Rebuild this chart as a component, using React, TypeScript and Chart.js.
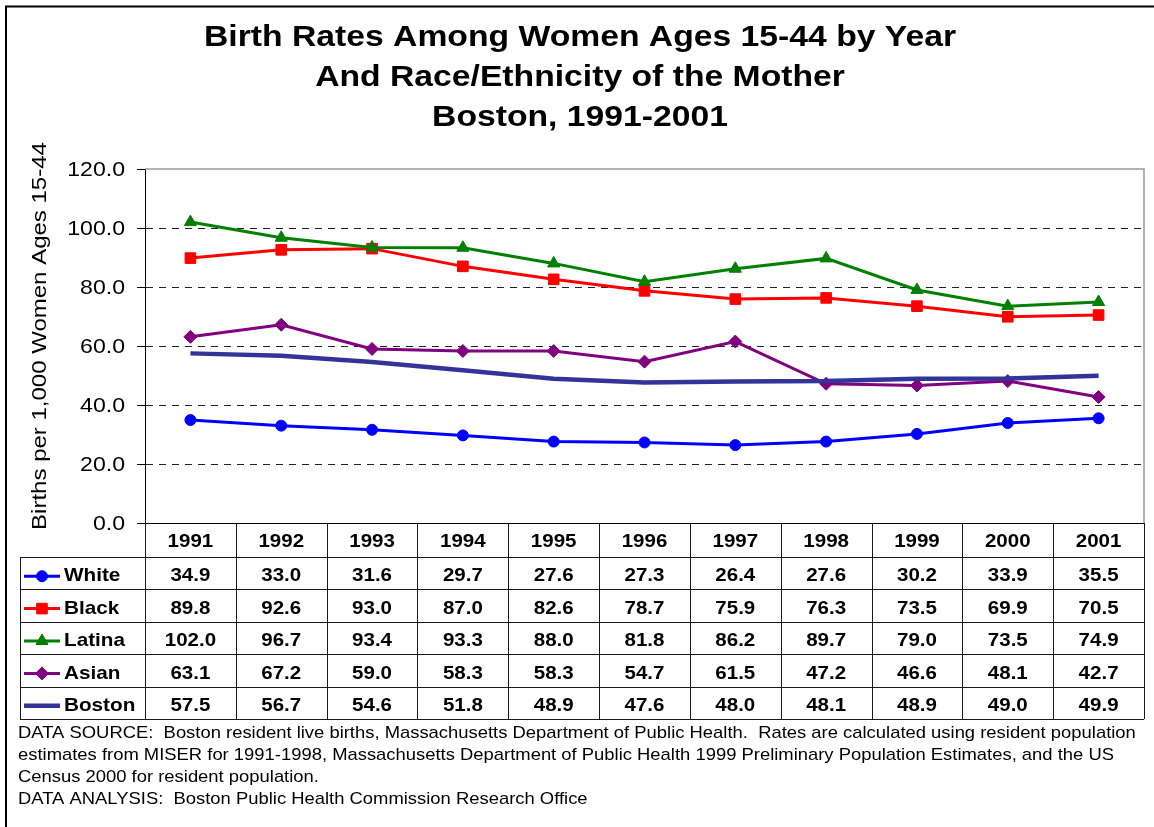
import React, { useEffect, useRef } from 'react';
import { Chart, registerables } from 'chart.js';
import { drawPoint } from 'chart.js/helpers';

Chart.register(...registerables);

const FONT = '"Liberation Sans", Arial, sans-serif';

const years = ['1991', '1992', '1993', '1994', '1995', '1996', '1997', '1998', '1999', '2000', '2001'];
const white = [34.9, 33.0, 31.6, 29.7, 27.6, 27.3, 26.4, 27.6, 30.2, 33.9, 35.5];
const black = [89.8, 92.6, 93.0, 87.0, 82.6, 78.7, 75.9, 76.3, 73.5, 69.9, 70.5];
const latina = [102.0, 96.7, 93.4, 93.3, 88.0, 81.8, 86.2, 89.7, 79.0, 73.5, 74.9];
const asian = [63.1, 67.2, 59.0, 58.3, 58.3, 54.7, 61.5, 47.2, 46.6, 48.1, 42.7];
const boston = [57.5, 56.7, 54.6, 51.8, 48.9, 47.6, 48.0, 48.1, 48.9, 49.0, 49.9];

const seriesNames = ['White', 'Black', 'Latina', 'Asian', 'Boston'];
const seriesColors = ['#0000FF', '#FF0000', '#008000', '#800080', '#333399'];
const seriesMarkers = ['circle', 'rect', 'triangle', 'rectRot', false];
const seriesRadius = [5.5, 7.5, 7, 6.5, 0];
const seriesWidth = [3, 3, 3, 3, 4.5];
const seriesValues = [white, black, latina, asian, boston];

const titleLines = [
  'Birth Rates Among Women Ages 15-44 by Year',
  'And Race/Ethnicity of the Mother',
  'Boston, 1991-2001',
];
const yAxisTitle = 'Births per 1,000 Women Ages 15-44';
const yTicks = { min: 0, max: 120, step: 20 };
const footerLines = [
  'DATA SOURCE:  Boston resident live births, Massachusetts Department of Public Health.  Rates are calculated using resident population',
  'estimates from MISER for 1991-1998, Massachusetts Department of Public Health 1999 Preliminary Population Estimates, and the US',
  'Census 2000 for resident population.',
  'DATA ANALYSIS:  Boston Public Health Commission Research Office',
];

const W = 1154;
const H = 827;

function stretchText(ctx: CanvasRenderingContext2D, text: string, x: number, y: number, sx: number, align: CanvasTextAlign, rot = 0) {
  ctx.save();
  ctx.translate(x, y);
  if (rot) ctx.rotate(rot);
  ctx.scale(sx, 1);
  ctx.textAlign = align;
  ctx.fillText(text, 0, 0);
  ctx.restore();
}

const decorPlugin = {
  id: 'decor',
  beforeDatasetsDraw(chart: any) {
    const { ctx, chartArea } = chart;
    ctx.save();
    ctx.strokeStyle = '#999999';
    ctx.lineWidth = 1.5;
    ctx.beginPath();
    ctx.moveTo(chartArea.left, chartArea.top);
    ctx.lineTo(chartArea.right, chartArea.top);
    ctx.lineTo(chartArea.right, chartArea.bottom);
    ctx.stroke();
    ctx.restore();
  },
  afterDraw(chart: any) {
    const { ctx, chartArea } = chart;
    const xs = chart.scales.x;
    const ys = chart.scales.y;
    ctx.save();

    // outer frame
    ctx.strokeStyle = '#000';
    ctx.lineWidth = 2;
    ctx.beginPath();
    ctx.moveTo(6, H);
    ctx.lineTo(6, 6.5);
    ctx.lineTo(W, 6.5);
    ctx.stroke();

    // title
    ctx.fillStyle = '#000';
    ctx.textBaseline = 'middle';
    ctx.font = `bold 30px ${FONT}`;
    titleLines.forEach((t, i) => stretchText(ctx, t, 580, 38 + i * 39.7, 1.123, 'center'));

    // y axis title (rotated)
    ctx.font = `20px ${FONT}`;
    stretchText(ctx, yAxisTitle, 40.5, (ys.top + ys.bottom) / 2 - 10, 1.2, 'center', -Math.PI / 2);

    // y tick labels
    ctx.font = `21px ${FONT}`;
    ys.ticks.forEach((t: any) => {
      stretchText(ctx, Number(t.value).toFixed(1), 125, ys.getPixelForValue(t.value) + 1, 1.1, 'right');
    });

    // data table
    const step = xs.getPixelForValue(1) - xs.getPixelForValue(0);
    const colEdges = years.map((_, i) => xs.getPixelForValue(i) - step / 2);
    colEdges.push(xs.getPixelForValue(years.length - 1) + step / 2);
    const tTop = chartArea.bottom;
    const headH = 34;
    const rowH = 32.4;
    const labelLeft = 20;
    const rowEdges = [tTop, tTop + headH];
    for (let i = 1; i <= seriesNames.length; i++) rowEdges.push(tTop + headH + rowH * i);
    const tBottom = rowEdges[rowEdges.length - 1];
    const px = (v: number) => Math.round(v) + 0.5;

    ctx.strokeStyle = '#1a1a1a';
    ctx.lineWidth = 1;
    ctx.beginPath();
    colEdges.forEach((x) => {
      ctx.moveTo(px(x), tTop);
      ctx.lineTo(px(x), tBottom);
    });
    ctx.moveTo(px(labelLeft), rowEdges[1]);
    ctx.lineTo(px(labelLeft), tBottom);
    for (let r = 1; r < rowEdges.length; r++) {
      ctx.moveTo(labelLeft, px(rowEdges[r]));
      ctx.lineTo(colEdges[colEdges.length - 1], px(rowEdges[r]));
    }
    ctx.stroke();

    ctx.fillStyle = '#000';
    ctx.font = `bold 19px ${FONT}`;
    ctx.textBaseline = 'middle';
    years.forEach((y, i) => stretchText(ctx, y, xs.getPixelForValue(i), tTop + headH / 2 + 1.5, 1.08, 'center'));

    seriesNames.forEach((name, s) => {
      const cy = rowEdges[s + 1] + rowH / 2 + 3;
      // legend key
      ctx.save();
      ctx.strokeStyle = seriesColors[s];
      ctx.lineWidth = seriesWidth[s];
      ctx.beginPath();
      ctx.moveTo(24, cy);
      ctx.lineTo(60, cy);
      ctx.stroke();
      if (seriesMarkers[s]) {
        ctx.fillStyle = seriesColors[s];
        ctx.lineWidth = 1;
        drawPoint(ctx, {
          pointStyle: seriesMarkers[s] as any,
          radius: seriesRadius[s],
          borderWidth: 1,
          rotation: 0,
        } as any, 42, cy);
      }
      ctx.restore();
      ctx.fillStyle = '#000';
      stretchText(ctx, name, 64, cy, 1.09, 'left');
      seriesValues[s].forEach((v, i) => stretchText(ctx, v.toFixed(1), xs.getPixelForValue(i), cy, 1.08, 'center'));
    });

    // footer
    ctx.font = `17px ${FONT}`;
    ctx.textBaseline = 'middle';
    footerLines.forEach((t, i) => stretchText(ctx, t, 18, 733 + i * 22, 1.083, 'left'));
    ctx.restore();
  },
};

export default function App() {
  const canvasRef = useRef<HTMLCanvasElement | null>(null);

  useEffect(() => {
    const canvas = canvasRef.current;
    if (!canvas) return;
    const chart = new Chart(canvas, {
      type: 'line',
      data: {
        labels: years,
        datasets: seriesNames.map((name, s) => ({
          label: name,
          data: seriesValues[s],
          borderColor: seriesColors[s],
          backgroundColor: seriesColors[s],
          pointBackgroundColor: seriesColors[s],
          pointBorderColor: seriesColors[s],
          pointBorderWidth: 1,
          pointStyle: seriesMarkers[s] as any,
          pointRadius: seriesRadius[s],
          borderWidth: seriesWidth[s],
          tension: 0,
          fill: false,
          order: seriesNames.length - s,
        })),
      },
      options: {
        responsive: false,
        animation: false,
        devicePixelRatio: 1,
        layout: { padding: { left: 20, top: 169, right: 10, bottom: 304 } },
        plugins: {
          legend: { display: false },
          tooltip: { enabled: false },
          title: { display: false },
        },
        scales: {
          x: {
            type: 'category',
            offset: true,
            grid: { display: false, drawTicks: false },
            ticks: { display: false },
            border: { display: true, color: '#000', width: 1 },
            afterFit: (s: any) => { s.height = 0; },
          },
          y: {
            min: yTicks.min,
            max: yTicks.max,
            ticks: {
              display: false,
              stepSize: yTicks.step,
            },
            grid: {
              color: (c: any) => (c.tick && (c.tick.value === yTicks.min || c.tick.value === yTicks.max) ? 'rgba(0,0,0,0)' : '#222'),
              tickColor: '#000',
              tickLength: 8,
              lineWidth: 1,
            },
            border: { display: true, color: '#000', width: 1, dash: [7, 6] },
            title: { display: false },
            afterFit: (s: any) => { s.width = 125; },
          },
        },
      },
      plugins: [decorPlugin],
    });
    return () => chart.destroy();
  }, []);

  return (
    <div style={{ position: 'absolute', left: 0, top: 0, width: W, height: H, background: '#fff' }}>
      <canvas ref={canvasRef} width={W} height={H} style={{ display: 'block', width: W, height: H }} />
    </div>
  );
}
